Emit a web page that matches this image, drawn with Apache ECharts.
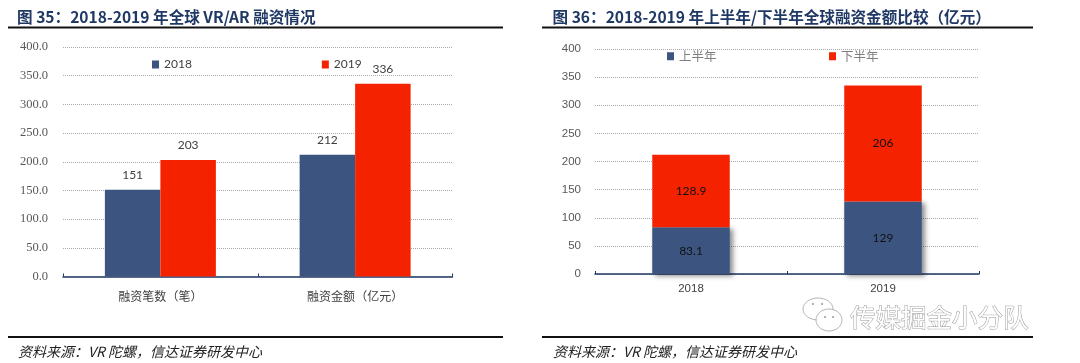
<!DOCTYPE html>
<html><head><meta charset="utf-8">
<style>html,body{margin:0;padding:0;background:#fff}#c{width:1080px;height:363px}</style>
<script src="https://cdn.jsdelivr.net/npm/echarts@6/dist/echarts.min.js"></script>
</head><body><div id="c"></div>
<script>
const leftCategories = ['融资笔数（笔）', '融资金额（亿元）'];
const leftNames = ['2018', '2019'];
const left2018 = [151, 212];
const left2019 = [203, 336];
const rightCategories = ['2018', '2019'];
const rightNames = ['上半年', '下半年'];
const rightFirstHalf = [83.1, 129];
const rightSecondHalf = [128.9, 206];
const titleLeft = '图 35：2018-2019 年全球 VR/AR 融资情况';
const titleRight = '图 36：2018-2019 年上半年/下半年全球融资金额比较（亿元）';
const sourceText = '资料来源：VR 陀螺，信达证券研发中心';
const watermark = '传媒掘金小分队';

const BLUE = '#3c5580', RED = '#f52200', NAVY = '#1f3864';
const CJK = '"Noto Sans CJK SC","Noto Sans",sans-serif';
const LATO = 'Lato,"Liberation Sans",sans-serif';

function xAxis(idx, data, font, size, margin) {
  return {
    type: 'category', gridIndex: idx, data,
    axisLine: {lineStyle: {color: NAVY, width: 1.5}},
    axisTick: {show: true, inside: true, length: 3, lineStyle: {color: NAVY}},
    axisLabel: {color: '#404040', fontFamily: font, fontSize: size, margin},
    splitLine: {show: false}
  };
}
function yAxis(idx, fmt, font, size, margin) {
  return {
    type: 'value', gridIndex: idx, min: 0, max: 400, interval: 50,
    axisLine: {show: false}, axisTick: {show: false},
    axisLabel: {color: '#595959', fontFamily: font, fontSize: size, margin, formatter: fmt},
    splitLine: {lineStyle: {color: '#a8a8a8', type: 'dotted', width: 1}}
  };
}
const rule = (x1, x2, y, w) => ({type: 'line', shape: {x1, y1: y, x2, y2: y}, style: {stroke: '#111', lineWidth: w}});
const src = (x) => ({type: 'text', x, y: 352, style: {text: sourceText, fill: '#222', font: 'italic 14px ' + CJK, verticalAlign: 'middle'}});

const option = {
  animation: false,
  backgroundColor: '#fff',
  title: [
    {text: titleLeft, left: 12, top: 4, textStyle: {color: NAVY, fontFamily: CJK, fontWeight: 'bold', fontSize: 15.6}},
    {text: titleRight, left: 547.5, top: 4, textStyle: {color: NAVY, fontFamily: CJK, fontWeight: 'bold', fontSize: 15.6}}
  ],
  legend: [
    {data: leftNames, left: 147, top: 53.5, itemWidth: 7, itemHeight: 8, itemGap: 130, icon: 'rect',
     textStyle: {color: '#404040', fontFamily: LATO, fontSize: 12}},
    {data: rightNames, left: 662, top: 45, itemWidth: 7, itemHeight: 8, itemGap: 112.5, icon: 'rect',
     textStyle: {color: '#7f7f7f', fontFamily: CJK, fontSize: 12.5}}
  ],
  grid: [
    {left: 63, right: 627.5, top: 47, bottom: 86.5},
    {left: 595, right: 101, top: 49, bottom: 89}
  ],
  xAxis: [xAxis(0, leftCategories, CJK, 12, 14), xAxis(1, rightCategories, '"Liberation Sans",sans-serif', 11.5, 9)],
  yAxis: [
    yAxis(0, v => v.toFixed(1), '"Liberation Serif",serif', 12.5, 15),
    yAxis(1, v => String(v), '"Liberation Sans",sans-serif', 11.5, 14)
  ],
  series: [
    {name: leftNames[0], type: 'bar', xAxisIndex: 0, yAxisIndex: 0, data: left2018, barWidth: 55.5, barGap: 0,
     itemStyle: {color: BLUE},
     label: {show: true, position: 'top', distance: 9, color: '#404040', fontFamily: LATO, fontSize: 12}},
    {name: leftNames[1], type: 'bar', xAxisIndex: 0, yAxisIndex: 0, data: left2019, barWidth: 55.5, barGap: 0,
     itemStyle: {color: RED},
     label: {show: true, position: 'top', distance: 9, color: '#404040', fontFamily: LATO, fontSize: 12}},
    {name: rightNames[0], type: 'bar', stack: 'h', xAxisIndex: 1, yAxisIndex: 1, data: rightFirstHalf, barWidth: 77.5,
     itemStyle: {color: BLUE, shadowColor: 'rgba(0,0,0,0.45)', shadowBlur: 5, shadowOffsetX: 3, shadowOffsetY: 2},
     label: {show: true, position: 'inside', color: '#111', fontFamily: LATO, fontSize: 12}},
    {name: rightNames[1], type: 'bar', stack: 'h', xAxisIndex: 1, yAxisIndex: 1, data: rightSecondHalf, barWidth: 77.5,
     itemStyle: {color: RED},
     label: {show: true, position: 'inside', color: '#111', fontFamily: LATO, fontSize: 12}}
  ],
  graphic: [
    rule(8, 503, 27.5, 2), rule(542, 1033, 27.5, 2),
    rule(8, 503, 337, 2), rule(542, 1033, 337, 2),
    src(18), src(553),
    {type: 'text', x: 850, y: 317, style: {text: watermark, fill: '#fff', stroke: '#9a9a9a', lineWidth: 1, font: '25.5px ' + CJK, verticalAlign: 'middle'}},
    {type: 'ellipse', shape: {cx: 818, cy: 309, rx: 15, ry: 11}, style: {fill: '#fff', stroke: '#b5b5b5', lineWidth: 1}},
    {type: 'ellipse', shape: {cx: 829, cy: 320, rx: 13, ry: 11}, style: {fill: '#fff', stroke: '#b5b5b5', lineWidth: 1}},
    {type: 'circle', shape: {cx: 813, cy: 304, r: 1}, style: {fill: '#999'}},
    {type: 'circle', shape: {cx: 822, cy: 304, r: 1}, style: {fill: '#999'}},
    {type: 'circle', shape: {cx: 825, cy: 317, r: 1}, style: {fill: '#999'}},
    {type: 'circle', shape: {cx: 833, cy: 317, r: 1}, style: {fill: '#999'}}
  ]
};
echarts.init(document.getElementById('c'), null, {renderer: 'canvas'}).setOption(option);
</script></body></html>
